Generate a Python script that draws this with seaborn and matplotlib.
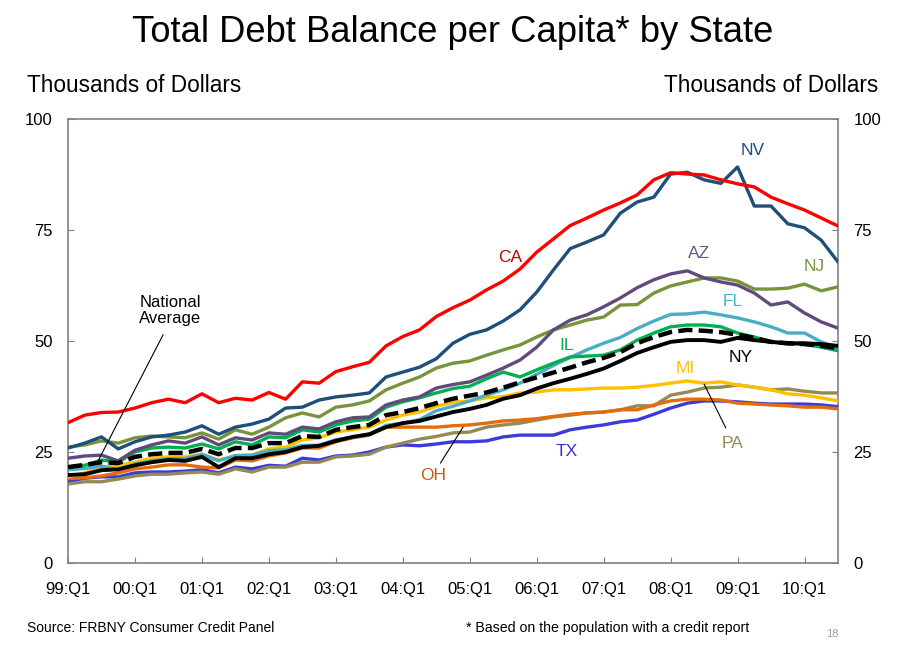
import numpy as np
import pandas as pd
import matplotlib
matplotlib.use('Agg')
import matplotlib.pyplot as plt
import seaborn as sns

# 분기 라벨 (99:Q1 ~ 10:Q3)
quarters = [f'{(99 + i // 4) % 100:02d}:Q{i % 4 + 1}' for i in range(47)]
tick_labels = ['99:Q1', '00:Q1', '01:Q1', '02:Q1', '03:Q1', '04:Q1',
               '05:Q1', '06:Q1', '07:Q1', '08:Q1', '09:Q1', '10:Q1']

# 주별 1인당 부채 (천 달러)
ca = [31.6, 33.3, 33.9, 34.0, 34.9, 36.1, 36.9, 36.1, 38.1, 36.1, 37.1, 36.7,
      38.4, 36.9, 40.8, 40.5, 43.1, 44.2, 45.2, 48.9, 51.0, 52.5, 55.5, 57.5,
      59.2, 61.5, 63.5, 66.2, 70.0, 73.0, 76.0, 77.7, 79.5, 81.1, 82.9, 86.3,
      87.9, 87.6, 87.4, 86.3, 85.4, 84.7, 82.4, 80.9, 79.5, 77.7, 75.9]
nv = [25.9, 27.0, 28.4, 25.7, 27.3, 28.4, 28.8, 29.5, 30.9, 29.0, 30.6, 31.3,
      32.4, 34.9, 35.1, 36.7, 37.4, 37.8, 38.3, 41.9, 43.0, 44.1, 46.0, 49.5,
      51.5, 52.5, 54.5, 57.0, 61.0, 66.0, 70.8, 72.3, 73.9, 78.8, 81.3, 82.4,
      87.6, 88.0, 86.3, 85.5, 89.2, 80.4, 80.4, 76.4, 75.5, 72.7, 67.8]
az = [23.6, 24.1, 24.3, 23.0, 25.4, 26.6, 27.5, 27.0, 28.4, 26.6, 28.2, 27.7,
      29.3, 29.0, 30.6, 30.2, 31.8, 32.7, 32.9, 35.6, 36.7, 37.4, 39.4, 40.2,
      40.8, 42.3, 43.9, 45.7, 48.6, 52.5, 54.7, 55.9, 57.7, 59.7, 62.0, 63.8,
      65.1, 65.8, 64.2, 63.3, 62.6, 60.8, 58.1, 58.8, 56.3, 54.3, 52.9]
nj = [26.1, 26.6, 27.5, 27.0, 28.2, 28.6, 28.4, 28.2, 29.3, 27.9, 30.0, 29.0,
      30.6, 32.7, 33.8, 32.9, 35.1, 35.6, 36.5, 39.0, 40.5, 41.9, 43.9, 45.0,
      45.5, 46.8, 48.0, 49.1, 50.9, 52.5, 53.6, 54.7, 55.4, 58.1, 58.2, 60.8,
      62.4, 63.3, 64.2, 64.2, 63.5, 61.7, 61.7, 61.9, 62.8, 61.3, 62.2]
fl = [21.0, 21.3, 21.8, 21.0, 22.3, 23.0, 23.5, 23.5, 24.5, 23.0, 24.2, 24.3,
      25.3, 25.5, 26.5, 26.5, 27.8, 28.3, 29.0, 31.0, 31.5, 32.3, 34.3, 35.3,
      36.5, 37.8, 39.0, 40.5, 42.5, 44.5, 46.3, 48.0, 49.5, 50.8, 52.8, 54.5,
      56.0, 56.1, 56.5, 55.9, 55.2, 54.3, 53.2, 51.8, 51.8, 49.8, 48.4]
il = [21.6, 22.0, 23.2, 22.7, 25.0, 25.9, 26.1, 25.9, 26.8, 25.7, 27.3, 26.6,
      28.4, 28.2, 30.0, 29.5, 31.1, 32.0, 32.4, 35.1, 36.3, 37.2, 38.3, 39.3,
      39.8, 41.5, 43.0, 41.9, 43.5, 45.0, 46.4, 46.6, 46.8, 48.0, 50.2, 51.8,
      53.2, 53.6, 53.6, 53.2, 51.8, 50.9, 49.8, 49.3, 49.3, 48.6, 47.8]
mi = [19.4, 20.3, 21.6, 22.0, 22.7, 23.6, 23.9, 23.9, 24.5, 23.2, 24.1, 24.3,
      25.7, 26.1, 27.7, 28.2, 29.5, 30.0, 30.6, 32.2, 33.3, 34.0, 35.3, 36.2,
      36.5, 37.2, 37.5, 38.3, 38.5, 39.0, 39.0, 39.2, 39.4, 39.4, 39.6, 40.0,
      40.5, 41.0, 40.5, 40.8, 40.1, 39.6, 39.0, 38.1, 37.8, 37.2, 36.5]
pa = [17.8, 18.3, 18.3, 18.9, 19.6, 20.0, 20.0, 20.3, 20.5, 20.0, 21.2, 20.5,
      21.6, 21.6, 22.7, 22.7, 23.9, 24.1, 24.5, 26.1, 27.0, 27.9, 28.5, 29.3,
      29.5, 30.6, 31.1, 31.5, 32.2, 32.9, 33.3, 33.8, 34.0, 34.5, 35.4, 35.4,
      37.8, 38.5, 39.4, 39.6, 40.1, 39.6, 39.0, 39.2, 38.7, 38.3, 38.3]
oh = [19.0, 19.2, 19.6, 20.3, 21.2, 21.6, 22.1, 22.1, 21.6, 21.4, 23.2, 23.0,
      24.1, 24.8, 25.9, 25.9, 27.3, 28.2, 28.8, 30.6, 30.6, 30.6, 30.6, 30.9,
      31.1, 31.5, 32.0, 32.2, 32.5, 33.0, 33.5, 33.8, 34.0, 34.5, 34.5, 35.6,
      36.5, 36.9, 36.9, 36.7, 36.0, 35.8, 35.6, 35.4, 35.1, 35.1, 34.7]
tx = [18.3, 19.1, 19.4, 19.4, 20.3, 20.5, 20.5, 20.7, 21.0, 20.3, 21.6, 21.2,
      22.0, 21.8, 23.6, 23.2, 24.1, 24.3, 25.0, 26.1, 26.6, 26.4, 26.8, 27.3,
      27.3, 27.5, 28.4, 28.8, 28.8, 28.8, 30.0, 30.6, 31.1, 31.8, 32.2, 33.5,
      34.9, 36.0, 36.5, 36.5, 36.3, 36.0, 35.8, 35.8, 35.8, 35.6, 35.2]
ny = [19.8, 20.0, 20.9, 21.1, 22.0, 22.7, 23.2, 23.0, 23.9, 21.6, 23.6, 23.6,
      24.5, 25.0, 26.1, 26.4, 27.5, 28.4, 29.0, 30.6, 31.5, 32.0, 33.0, 34.0,
      34.7, 35.6, 37.0, 37.8, 39.3, 40.5, 41.5, 42.6, 43.8, 45.5, 47.3, 48.6,
      49.8, 50.2, 50.2, 49.8, 50.7, 50.2, 49.8, 49.5, 49.5, 49.3, 48.9]
national = [21.6, 22.1, 22.7, 22.5, 23.9, 24.5, 24.8, 24.8, 25.7, 24.5, 25.9, 25.9,
            27.0, 27.0, 28.6, 28.4, 30.0, 30.6, 31.1, 33.3, 34.0, 34.9, 36.0, 37.0,
            37.7, 38.4, 39.5, 40.7, 41.8, 42.9, 44.0, 45.2, 46.2, 47.5, 49.5, 50.9,
            52.0, 52.5, 52.3, 52.0, 51.4, 50.7, 49.8, 49.5, 49.3, 48.9, 48.4]

states = ['TX', 'PA', 'OH', 'MI', 'FL', 'IL', 'NJ', 'AZ', 'NV', 'CA', 'NY', 'National Average']
values = [tx, pa, oh, mi, fl, il, nj, az, nv, ca, ny, national]
line_colors = {'CA': '#ff0000', 'NV': '#1f4e79', 'AZ': '#604a7b', 'NJ': '#77933c',
               'FL': '#4bacc6', 'IL': '#00b050', 'MI': '#ffc000', 'PA': '#948a54',
               'OH': '#e46c0a', 'TX': '#3b3bdc', 'NY': '#000000',
               'National Average': '#000000'}

rows = []
for st, vals in zip(states, values):
    for i, v in enumerate(vals):
        rows.append((st, i, v))
df = pd.DataFrame(rows, columns=['state', 'q', 'debt'])

sns.set_style('white')
plt.rcParams['font.family'] = ['Liberation Sans', 'DejaVu Sans']
plt.rcParams['text.color'] = 'black'
plt.rcParams['xtick.labelcolor'] = 'black'
plt.rcParams['ytick.labelcolor'] = 'black'

fig = plt.figure(figsize=(9.15, 6.47), dpi=100)
ax = fig.add_axes([68 / 915, 1 - 563 / 647, 770 / 915, 444 / 647])

for st in states:
    sub = df[df['state'] == st]
    if st == 'National Average':
        sns.lineplot(data=sub, x='q', y='debt', ax=ax, color='black', linewidth=3.2,
                     linestyle=(0, (3.2, 1.4)), zorder=5)
    elif st == 'NY':
        sns.lineplot(data=sub, x='q', y='debt', ax=ax, color='black',
                     linewidth=2.8, zorder=4)
    else:
        sns.lineplot(data=sub, x='q', y='debt', ax=ax, color=line_colors[st],
                     linewidth=2.4, zorder=3)

ax.set_xlim(0, 46)
ax.set_ylim(0, 100)
ax.set_xticks(range(0, 47, 4))
ax.set_xticklabels(tick_labels, fontsize=12)
ax.set_yticks([0, 25, 50, 75, 100])
ax.set_yticklabels(['0', '25', '50', '75', '100'], fontsize=12)
ax.tick_params(axis='x', direction='in', length=4, pad=14, color='#808080',
               labelcolor='black', bottom=True)
ax.tick_params(axis='y', direction='in', length=4, pad=11, color='#808080',
               labelcolor='black', left=True, right=True, labelright=True)
ax.set_xlabel('')
ax.set_ylabel('')
for sp in ax.spines.values():
    sp.set_color('#808080')
    sp.set_linewidth(1.2)

# 주 라벨
labels = [('NV', 40.9, 93.0, '#1f497d'), ('CA', 26.4, 68.7, '#c00000'),
          ('AZ', 37.7, 69.6, '#66588a'), ('NJ', 44.6, 66.7, '#77933c'),
          ('FL', 39.7, 59.0, '#4bacc6'), ('IL', 29.8, 48.9, '#00b050'),
          ('NY', 40.2, 46.2, '#000000'), ('MI', 36.9, 43.9, '#ffc000'),
          ('PA', 39.7, 27.0, '#948a54'), ('OH', 21.8, 19.8, '#c55a11'),
          ('TX', 29.8, 25.2, '#3333cc')]
for name, x, y, c in labels:
    ax.text(x, y, name, color=c, fontsize=12.5, ha='center', va='center')
ax.text(6.1, 56.8, 'National\nAverage', fontsize=12, ha='center', va='center',
        linespacing=1.1, color='black')
ax.plot([5.68, 1.73], [51.4, 22.5], color='black', linewidth=0.8, zorder=6)
ax.plot([22.25, 23.6], [22.5, 30.6], color='black', linewidth=0.8, zorder=6)
ax.plot([38.0, 39.3], [40.3, 30.4], color='black', linewidth=0.8, zorder=6)

fig.text(453 / 915, 1 - 33 / 647, 'Total Debt Balance per Capita* by State',
         fontsize=26.2, ha='center', va='center', color='black')
fig.text(27 / 915, 1 - 86 / 647, 'Thousands of Dollars', fontsize=16.3, ha='left', va='center')
fig.text(878 / 915, 1 - 86 / 647, 'Thousands of Dollars', fontsize=16.3, ha='right', va='center')
fig.text(27 / 915, 1 - 628 / 647, 'Source: FRBNY Consumer Credit Panel', fontsize=10,
         ha='left', va='center')
fig.text(466 / 915, 1 - 628 / 647, '* Based on the population with a credit report',
         fontsize=10.2, ha='left', va='center')
fig.text(826 / 915, 1 - 634 / 647, '18', fontsize=8, color='#a0a0a0', ha='left', va='center')

fig.savefig('out.png', dpi=100)
